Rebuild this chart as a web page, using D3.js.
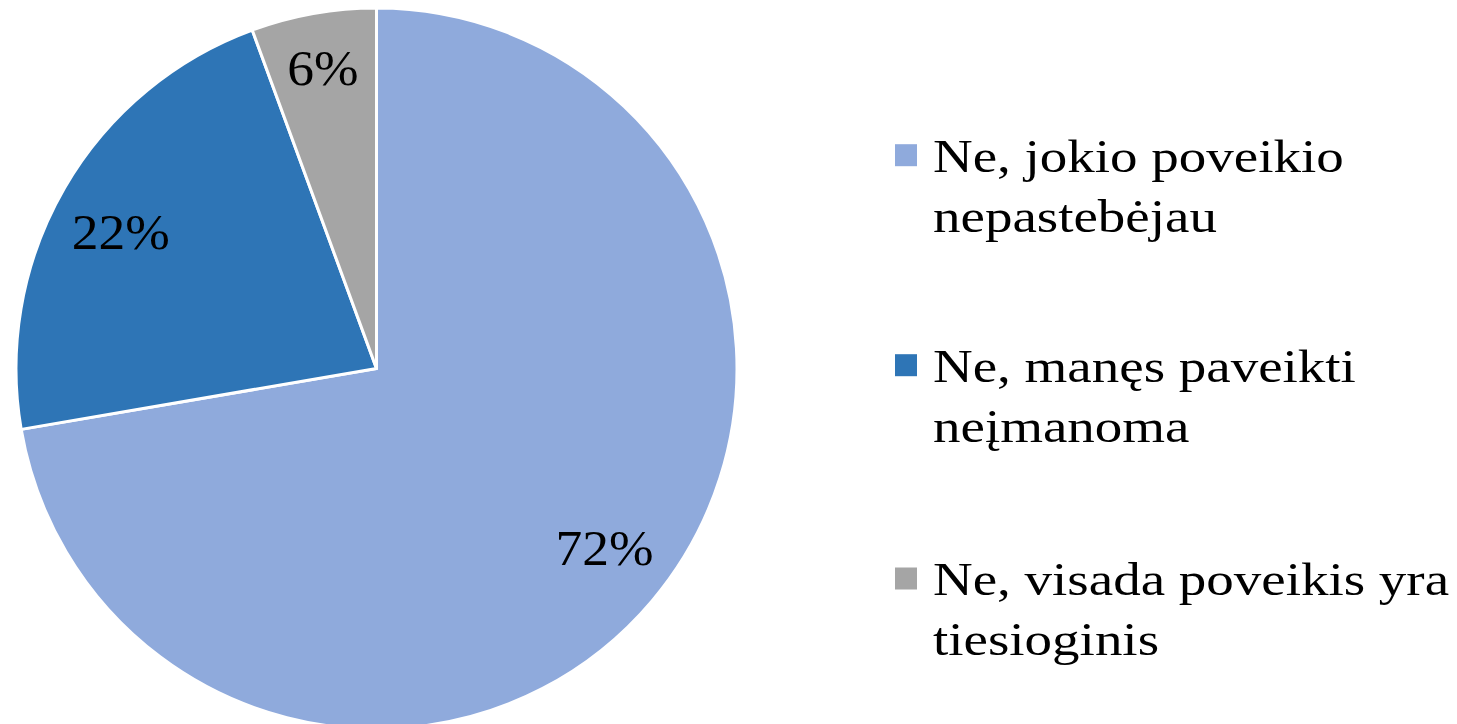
<!DOCTYPE html>
<html>
<head>
<meta charset="utf-8">
<script src="https://cdn.jsdelivr.net/npm/d3@7"></script>
<style>
  html, body { margin: 0; padding: 0; background: #fff; }
  svg { display: block; }
  text { font-family: "Liberation Serif", "Times New Roman", serif; fill: #000; }
</style>
</head>
<body>
<svg id="chart" width="1457" height="724"></svg>
<script>
const categories = [
  ["Ne, jokio poveikio", "nepastebėjau"],
  ["Ne, manęs paveikti", "neįmanoma"],
  ["Ne, visada poveikis yra", "tiesioginis"]
];
const values = [72.3, 22.1, 5.6];
const colors = ["#8FAADC", "#2E75B6", "#A5A5A5"];

const svg = d3.select("#chart");
const cx = 376.5, cy = 368.5, R = 360.5;
const pctFmt = v => d3.format(".0f")(v) + "%";

const data = values.map((v, i) => ({ v, i }));
const pie = d3.pie().value(d => d.v).sort(null);
const arcs = pie(data);
const arc = d3.arc().innerRadius(0).outerRadius(R);

const g = svg.append("g").attr("transform", `translate(${cx},${cy})`);
g.selectAll("path.slice").data(arcs).join("path")
  .attr("class", "slice")
  .attr("d", arc)
  .attr("fill", d => colors[d.data.i])
  .attr("stroke", "#fff")
  .attr("stroke-width", 3)
  .attr("stroke-linejoin", "round");

const sx = 1.07;
g.selectAll("text.lbl").data(arcs).join("text")
  .attr("class", "lbl")
  .attr("transform", d => {
    const small = d.data.v < 10;
    const f = small ? 0.848 : 0.804;
    const a = (d.startAngle + d.endAngle) / 2 - (small ? 0 : 2 * Math.PI / 180);
    const x = Math.sin(a) * R * f, y = -Math.cos(a) * R * f;
    return `translate(${x},${y}) scale(${sx},1)`;
  })
  .attr("text-anchor", "middle")
  .attr("dy", "0.34em")
  .style("font-size", "50px")
  .text(d => pctFmt(d.data.v));

const legend = svg.append("g");
const legX = 895, legTextX = 933, sq = 22;
const baseY = [171.7, 381.7, 595];
const lineH = 60;
const lsx = 1.17;
categories.forEach((lines, i) => {
  legend.append("rect")
    .attr("x", legX).attr("y", baseY[i] - 16.5 - sq / 2)
    .attr("width", sq).attr("height", sq)
    .attr("fill", colors[i]);
  lines.forEach((t, j) => {
    legend.append("text")
      .attr("transform", `translate(${legTextX},${baseY[i] + j * lineH}) scale(${lsx},1)`)
      .style("font-size", "47px")
      .text(t);
  });
});
</script>
</body>
</html>
